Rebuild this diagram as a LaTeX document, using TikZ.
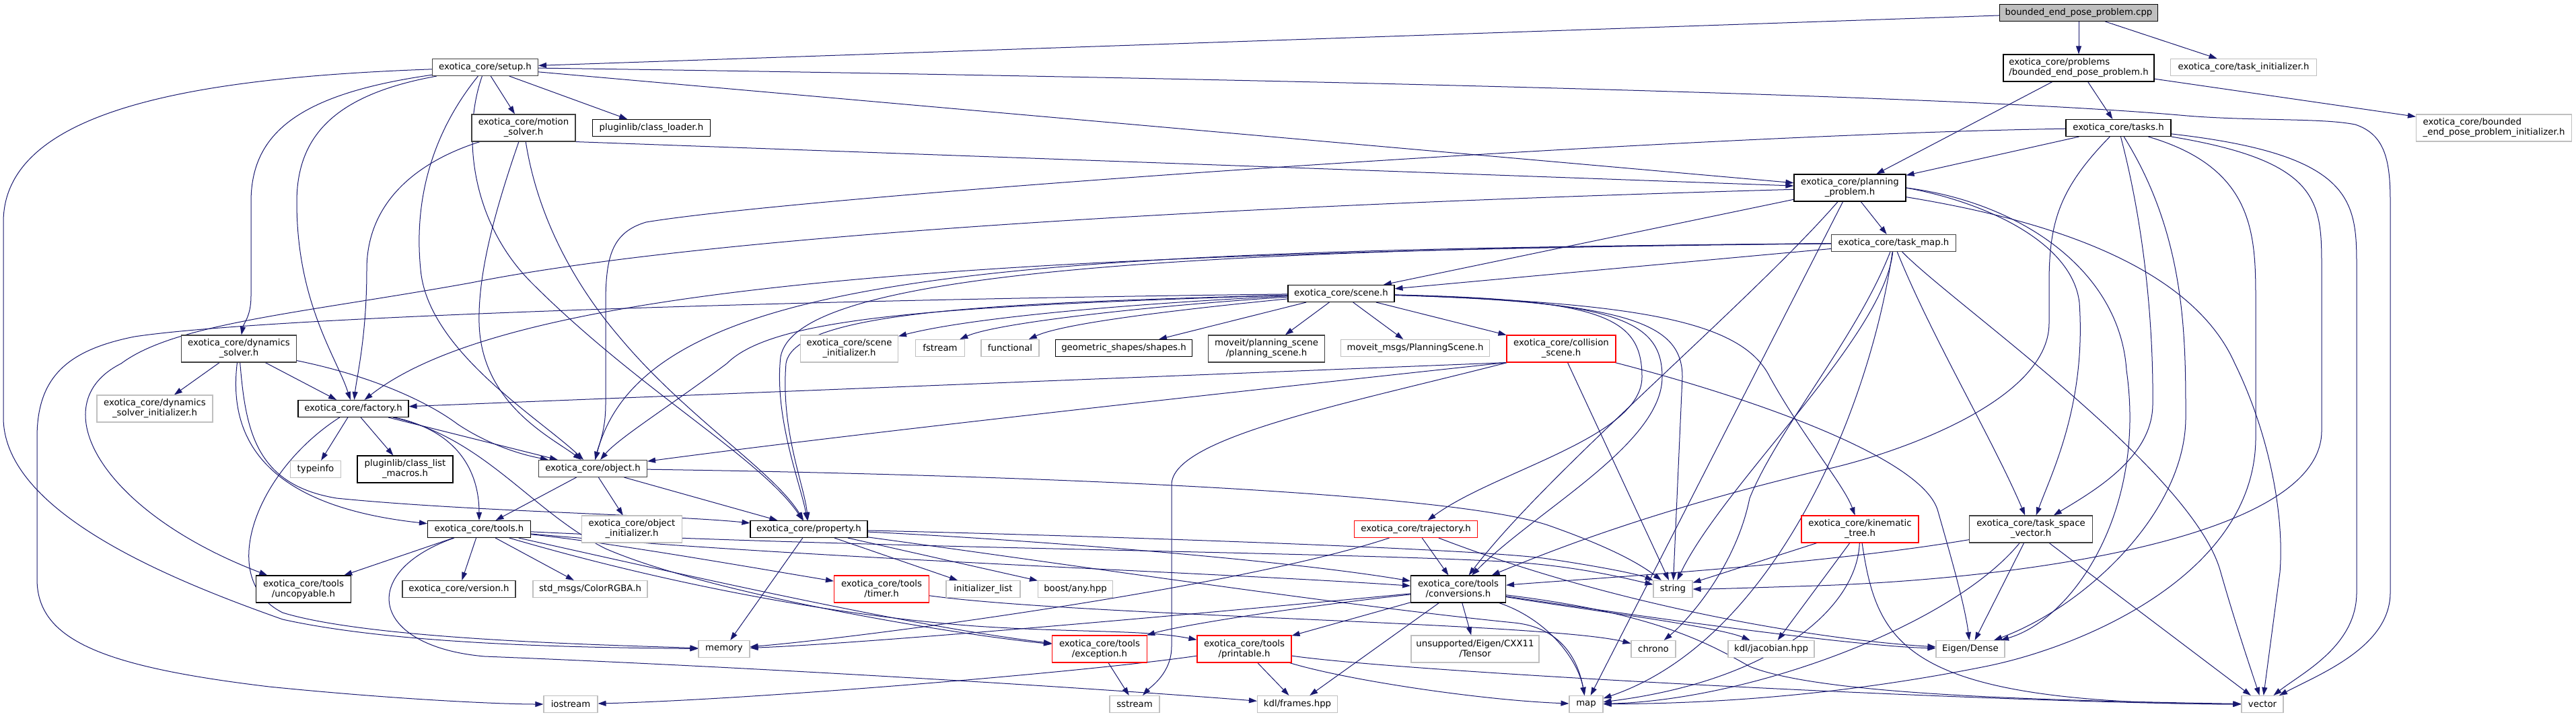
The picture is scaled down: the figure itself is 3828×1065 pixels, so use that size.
\documentclass[tikz,border=0pt]{standalone}
\usepackage{fontspec}
\setmainfont{DejaVu Sans}
\usetikzlibrary{arrows.meta}
\pgfdeclarelayer{bg}
\pgfsetlayers{bg,main}
\definecolor{edgec}{HTML}{191970}
\definecolor{lgc}{HTML}{BFBFBF}
\definecolor{dgc}{HTML}{404040}
\definecolor{redc}{HTML}{FF0000}
\begin{document}
\begin{tikzpicture}[x=1pt,y=-1pt,
  nbase/.style={fill=white,line width=1.1pt,inner sep=0pt,align=center,font=\fontsize{13.3pt}{15pt}\selectfont},
  nb/.style={nbase,draw=black},
  nd/.style={nbase,draw=dgc},
  nl/.style={nbase,draw=lgc},
  nr/.style={nbase,draw=redc},
  dep/.style={draw=edgec,line width=1pt,-{Triangle[length=12pt,width=8pt]}}
]
\useasboundingbox (0,0) rectangle (3828,1065);
% ---------------- nodes ----------------
\node[nb,fill=lgc,minimum width=235pt,minimum height=25pt] (cpp) at (3089,19) {bounded\_end\_pose\_problem.cpp};
\node[nb,align=left,minimum width=224pt,minimum height=40pt] (probbep) at (3089,101) {exotica\_core/problems\\/bounded\_end\_pose\_problem.h};
\node[nl,minimum width=217pt,minimum height=25pt] (taskinit) at (3334,100) {exotica\_core/task\_initializer.h};
\node[nb,minimum width=156pt,minimum height=25pt] (tasks) at (3148,190) {exotica\_core/tasks.h};
\node[nl,align=left,minimum width=231pt,minimum height=40pt] (bepinit) at (3706,190) {exotica\_core/bounded\\\_end\_pose\_problem\_initializer.h};
\node[nd,minimum width=157pt,minimum height=25pt] (setup) at (721,100) {exotica\_core/setup.h};
\node[nd,minimum width=154pt,minimum height=40pt] (motion) at (778,190) {exotica\_core/motion\\\_solver.h};
\node[nb,minimum width=175pt,minimum height=25pt] (classloader) at (968,190) {pluginlib/class\_loader.h};
\node[nb,minimum width=166pt,minimum height=40pt] (pp) at (2749,279) {exotica\_core/planning\\\_problem.h};
\node[nd,minimum width=185pt,minimum height=25pt] (taskmap) at (2814,361) {exotica\_core/task\_map.h};
\node[nb,minimum width=158pt,minimum height=25pt] (scene) at (1993,436) {exotica\_core/scene.h};
\node[nd,minimum width=171pt,minimum height=40pt] (dyn) at (355,518) {exotica\_core/dynamics\\\_solver.h};
\node[nl,minimum width=145pt,minimum height=40pt] (sceneinit) at (1262,518) {exotica\_core/scene\\\_initializer.h};
\node[nl,minimum width=73pt,minimum height=25pt] (fstream) at (1397,517) {fstream};
\node[nl,minimum width=86pt,minimum height=25pt] (functional) at (1501,517) {functional};
\node[nb,minimum width=203pt,minimum height=25pt] (shapes) at (1670,517) {geometric\_shapes/shapes.h};
\node[nd,minimum width=173pt,minimum height=40pt] (mps) at (1882,518) {moveit/planning\_scene\\/planning\_scene.h};
\node[nl,minimum width=221pt,minimum height=25pt] (msgs) at (2103,517) {moveit\_msgs/PlanningScene.h};
\node[nr,minimum width=162pt,minimum height=40pt] (coll) at (2320,518) {exotica\_core/collision\\\_scene.h};
\node[nl,minimum width=172pt,minimum height=40pt] (dsinit) at (230,607) {exotica\_core/dynamics\\\_solver\_initializer.h};
\node[nb,minimum width=164pt,minimum height=25pt] (factory) at (525,607) {exotica\_core/factory.h};
\node[nl,minimum width=75pt,minimum height=25pt] (typeinfo) at (469,697) {typeinfo};
\node[nb,minimum width=142pt,minimum height=40pt] (macros) at (602,697) {pluginlib/class\_list\\\_macros.h};
\node[nd,minimum width=161pt,minimum height=25pt] (object) at (881,696) {exotica\_core/object.h};
\node[nl,minimum width=149pt,minimum height=40pt] (objinit) at (939,786) {exotica\_core/object\\\_initializer.h};
\node[nb,minimum width=153pt,minimum height=25pt] (tools) at (712,786) {exotica\_core/tools.h};
\node[nb,minimum width=174pt,minimum height=25pt] (property) at (1202,786) {exotica\_core/property.h};
\node[nr,minimum width=183pt,minimum height=25pt] (trajectory) at (2104,786) {exotica\_core/trajectory.h};
\node[nr,minimum width=174pt,minimum height=40pt] (kintree) at (2764,786) {exotica\_core/kinematic\\\_tree.h};
\node[nd,minimum width=183pt,minimum height=40pt] (tsv) at (3018,786) {exotica\_core/task\_space\\\_vector.h};
\node[nb,minimum width=141pt,minimum height=40pt] (uncopyable) at (451,875) {exotica\_core/tools\\/uncopyable.h};
\node[nd,minimum width=168pt,minimum height=25pt] (version) at (682,875) {exotica\_core/version.h};
\node[nl,minimum width=170pt,minimum height=25pt] (colorrgba) at (877,875) {std\_msgs/ColorRGBA.h};
\node[nr,minimum width=141pt,minimum height=40pt] (timer) at (1310,875) {exotica\_core/tools\\/timer.h};
\node[nl,minimum width=110pt,minimum height=25pt] (initlist) at (1461,875) {initializer\_list};
\node[nl,minimum width=111pt,minimum height=25pt] (boostany) at (1598,875) {boost/any.hpp};
\node[nb,minimum width=141pt,minimum height=40pt] (conversions) at (2167,875) {exotica\_core/tools\\/conversions.h};
\node[nl,minimum width=58pt,minimum height=25pt] (string) at (2486,875) {string};
\node[nl,minimum width=76pt,minimum height=25pt] (memory) at (1076,964) {memory};
\node[nr,minimum width=141pt,minimum height=40pt] (exception) at (1634,964) {exotica\_core/tools\\/exception.h};
\node[nr,minimum width=140pt,minimum height=40pt] (printable) at (1849,964) {exotica\_core/tools\\/printable.h};
\node[nl,minimum width=190pt,minimum height=40pt] (tensor) at (2192,964) {unsupported/Eigen/CXX11\\/Tensor};
\node[nl,minimum width=66pt,minimum height=25pt] (chrono) at (2457,964) {chrono};
\node[nl,minimum width=128pt,minimum height=25pt] (jacobian) at (2632,964) {kdl/jacobian.hpp};
\node[nl,minimum width=102pt,minimum height=25pt] (eigen) at (2928,964) {Eigen/Dense};
\node[nl,minimum width=80pt,minimum height=25pt] (iostream) at (848,1046) {iostream};
\node[nl,minimum width=74pt,minimum height=25pt] (sstream) at (1686,1046) {sstream};
\node[nl,minimum width=119pt,minimum height=25pt] (frames) at (1928,1046) {kdl/frames.hpp};
\node[nl,minimum width=50pt,minimum height=25pt] (map) at (2357,1046) {map};
\node[nl,minimum width=62pt,minimum height=25pt] (vector) at (3362,1046) {vector};
% ---------------- edges ----------------
\begin{pgfonlayer}{bg}
\fill[white] (0,0) rectangle (3828,1065);
% top file
\draw[dep] (cpp) -- (setup);
\draw[dep] (cpp) -- (probbep);
\draw[dep] (cpp) -- (taskinit);
\draw[dep] (probbep) -- (pp);
\draw[dep] (probbep) -- (tasks);
\draw[dep] (probbep) -- (bepinit);
% setup
\draw[dep] (setup) .. controls (1800,115) and (2900,140) .. (3250,172) .. controls (3350,180) and (3450,175) .. (3500,185) .. controls (3545,200) and (3552,240) .. (3552,300) -- (3552,880) .. controls (3552,960) and (3450,1000) .. (vector);
\draw[dep] (setup) -- (pp);
\draw[dep] (setup) -- (motion);
\draw[dep] (setup) -- (classloader);
\draw[dep] (setup) .. controls (440,140) and (373,200) .. (373,300) -- (373,440) .. controls (373,470) and (362,480) .. (dyn);
\draw[dep] (setup) .. controls (500,140) and (441,200) .. (441,300) .. controls (441,450) and (500,530) .. (factory);
\draw[dep] (setup) .. controls (640,200) and (615,300) .. (625,400) .. controls (635,520) and (800,620) .. (object);
\draw[dep] (setup) .. controls (686,200) and (700,330) .. (790,420) .. controls (950,580) and (1130,680) .. (property);
\draw[dep] (setup) .. controls (300,115) and (5,160) .. (5,330) -- (5,620) .. controls (5,760) and (250,860) .. (420,920) .. controls (600,960) and (900,962) .. (memory);
% motion solver
\draw[dep] (motion.south east) -- (pp);
\draw[dep] (motion) .. controls (620,240) and (545,300) .. (545,400) .. controls (545,500) and (530,560) .. (factory);
\draw[dep] (motion) .. controls (740,300) and (710,400) .. (712,480) .. controls (715,600) and (820,650) .. (object);
\draw[dep] (motion) .. controls (800,330) and (860,430) .. (920,500) .. controls (1020,620) and (1150,700) .. (property);
% dynamics solver
\draw[dep] (dyn) -- (dsinit);
\draw[dep] (dyn) -- (factory);
\draw[dep] (dyn) .. controls (560,560) and (640,600) .. (680,630) .. controls (740,670) and (800,680) .. (object);
\draw[dep] (dyn) .. controls (365,640) and (380,720) .. (500,740) .. controls (700,760) and (1000,765) .. (property);
\draw[dep] (dyn) .. controls (340,640) and (380,750) .. (tools);
% factory
\draw[dep] (factory) -- (typeinfo);
\draw[dep] (factory) -- (macros);
\draw[dep] (factory) -- (object);
\draw[dep] (factory) .. controls (680,640) and (712,700) .. (tools);
\draw[dep] (factory) .. controls (380,700) and (320,860) .. (420,910) .. controls (550,950) and (900,958) .. (memory);
\draw[dep] (factory) .. controls (720,650) and (790,760) .. (900,815) .. controls (1050,880) and (1400,940) .. (exception);
% object
\draw[dep] (object) -- (tools);
\draw[dep] (object) -- (objinit);
\draw[dep] (object) -- (property);
\draw[dep] (object) .. controls (1500,705) and (2150,730) .. (2300,780) .. controls (2400,815) and (2440,840) .. (string);
% tools
\draw[dep] (tools) -- (uncopyable);
\draw[dep] (tools) -- (version);
\draw[dep] (tools) -- (colorrgba);
\draw[dep] (tools) .. controls (1200,830) and (1800,850) .. (conversions);
\draw[dep] (tools) .. controls (1300,815) and (2000,820) .. (2250,835) .. controls (2350,842) and (2420,860) .. (string);
\draw[dep] (tools) .. controls (900,805) and (1100,840) .. (timer);
\draw[dep] (tools) .. controls (1000,850) and (1350,930) .. (exception);
\draw[dep] (tools) .. controls (1000,870) and (1250,915) .. (1450,930) .. controls (1600,940) and (1700,935) .. (printable);
\draw[dep] (tools) .. controls (530,850) and (550,960) .. (720,975) .. controls (1100,990) and (1600,1020) .. (frames);
% property
\draw[dep] (property) -- (memory);
\draw[dep] (property) -- (initlist);
\draw[dep] (property) -- (boostany);
\draw[dep] (property) .. controls (1500,800) and (1900,830) .. (conversions);
\draw[dep] (property) .. controls (1600,795) and (2200,815) .. (2300,830) .. controls (2400,845) and (2440,855) .. (string);
\draw[dep] (property) .. controls (1600,840) and (2000,900) .. (2250,925) .. controls (2320,932) and (2345,980) .. (map);
% planning problem
\draw[dep] (pp) -- (scene);
\draw[dep] (pp) -- (taskmap);
\draw[dep] (pp.east) .. controls (2950,300) and (3080,360) .. (3090,450) .. controls (3100,600) and (3050,700) .. (tsv);
\draw[dep] (pp) .. controls (2600,450) and (2300,700) .. (conversions);
\draw[dep] (pp) -- (map);
\draw[dep] (pp) .. controls (3000,320) and (3250,380) .. (3321,540) .. controls (3370,640) and (3395,760) .. (3388,850) -- (vector);
\draw[dep] (pp.east) .. controls (3000,300) and (3150,400) .. (3160,550) .. controls (3190,760) and (3080,920) .. (eigen);
\draw[dep] (pp) .. controls (2000,300) and (1100,340) .. (700,420) .. controls (450,465) and (260,480) .. (180,540) .. controls (60,600) and (150,760) .. (uncopyable);
% tasks
\draw[dep] (tasks) -- (pp);
\draw[dep] (tasks) .. controls (2500,200) and (1200,290) .. (960,330) .. controls (910,345) and (900,380) .. (900,450) -- (900,600) .. controls (900,640) and (890,660) .. (object);
\draw[dep] (tasks) .. controls (3190,350) and (3200,500) .. (3199,600) .. controls (3199,680) and (3110,730) .. (tsv);
\draw[dep] (tasks) .. controls (3248,350) and (3248,500) .. (3248,620) .. controls (3248,760) and (3100,900) .. (eigen);
\draw[dep] (tasks) .. controls (3352,250) and (3352,350) .. (3352,450) -- (3352,650) .. controls (3352,850) and (3100,960) .. (2950,990) .. controls (2700,1040) and (2500,1045) .. (map);
\draw[dep] (tasks) .. controls (3450,240) and (3450,300) .. (3450,400) -- (3450,640) .. controls (3450,800) and (3000,860) .. (2700,870) .. controls (2600,873) and (2550,875) .. (string);
\draw[dep] (tasks) .. controls (3502,230) and (3502,300) .. (3502,400) -- (3502,880) .. controls (3502,960) and (3420,1000) .. (vector);
\draw[dep] (tasks) .. controls (3060,280) and (3045,330) .. (3045,420) -- (3045,480) .. controls (3045,600) and (2800,680) .. (2700,700) .. controls (2450,760) and (2300,820) .. (conversions);
% task map
\draw[dep] (taskmap) -- (scene);
\draw[dep] (taskmap) .. controls (1400,375) and (750,430) .. (factory);
\draw[dep] (taskmap) .. controls (1500,372) and (960,400) .. (object);
\draw[dep] (taskmap) .. controls (1600,370) and (1180,420) .. (1160,530) .. controls (1150,620) and (1190,720) .. (property);
\draw[dep] (taskmap) .. controls (2870,500) and (2960,650) .. (tsv);
\draw[dep] (taskmap) .. controls (2800,500) and (2560,720) .. (string);
\draw[dep] (taskmap) .. controls (2760,500) and (2640,640) .. (2600,740) .. controls (2580,840) and (2510,920) .. (chrono);
\draw[dep] (taskmap) .. controls (2780,600) and (2640,950) .. (map);
\draw[dep] (taskmap) .. controls (2900,450) and (3260,700) .. (3300,850) .. controls (3320,920) and (3340,980) .. (vector);
% scene
\draw[dep] (scene) .. controls (1700,450) and (1450,470) .. (sceneinit);
\draw[dep] (scene) .. controls (1700,455) and (1480,480) .. (fstream);
\draw[dep] (scene) .. controls (1750,460) and (1580,480) .. (functional);
\draw[dep] (scene) -- (shapes);
\draw[dep] (scene) -- (mps);
\draw[dep] (scene) -- (msgs);
\draw[dep] (scene) -- (coll);
\draw[dep] (scene) .. controls (1500,450) and (1180,460) .. (1168,540) .. controls (1160,640) and (1195,720) .. (property);
\draw[dep] (scene) .. controls (1400,455) and (1150,470) .. (1080,540) .. controls (1000,600) and (920,650) .. (object);
\draw[dep] (scene) .. controls (1200,445) and (400,470) .. (200,500) .. controls (100,520) and (55,560) .. (55,650) -- (55,860) .. controls (55,950) and (150,990) .. (400,1020) .. controls (600,1040) and (750,1046) .. (iostream);
\draw[dep] (scene) .. controls (2380,445) and (2440,470) .. (2440,560) .. controls (2440,650) and (2220,700) .. (trajectory);
\draw[dep] (scene) .. controls (2400,447) and (2470,475) .. (2470,560) .. controls (2470,660) and (2280,760) .. (conversions);
\draw[dep] (scene) .. controls (2420,449) and (2500,480) .. (2500,560) -- (string);
\draw[dep] (scene) .. controls (2450,450) and (2590,480) .. (2630,560) .. controls (2680,650) and (2740,720) .. (kintree);
% collision scene
\draw[dep] (coll.south west) -- (factory);
\draw[dep] (coll.south west) .. controls (1900,575) and (1300,640) .. (object);
\draw[dep] (coll) .. controls (2000,600) and (1741,650) .. (1741,720) -- (1741,960) .. controls (1741,1000) and (1710,1020) .. (sstream);
\draw[dep] (coll) -- (string);
\draw[dep] (coll) .. controls (2600,590) and (2860,680) .. (2880,760) .. controls (2900,830) and (2920,900) .. (eigen);
% kinematic tree
\draw[dep] (kintree) -- (string);
\draw[dep] (kintree) -- (jacobian);
\draw[dep] (kintree) .. controls (2760,900) and (2640,1010) .. (map);
\draw[dep] (kintree) .. controls (2790,960) and (2830,1045) .. (vector);
% trajectory
\draw[dep] (trajectory) .. controls (1850,870) and (1300,945) .. (memory);
\draw[dep] (trajectory) -- (conversions);
\draw[dep] (trajectory) .. controls (2400,900) and (2700,950) .. (eigen);
% conversions
\draw[dep] (conversions) .. controls (1800,910) and (1300,955) .. (memory);
\draw[dep] (conversions) .. controls (1900,905) and (1750,930) .. (exception);
\draw[dep] (conversions) -- (printable);
\draw[dep] (conversions) -- (frames);
\draw[dep] (conversions) -- (tensor);
\draw[dep] (conversions) .. controls (2300,920) and (2345,980) .. (map);
\draw[dep] (conversions) .. controls (2350,905) and (2550,930) .. (jacobian);
\draw[dep] (conversions) .. controls (2400,910) and (2750,960) .. (eigen);
\draw[dep] (conversions) .. controls (2450,910) and (2530,950) .. (2600,990) .. controls (2700,1030) and (3000,1040) .. (vector);
% timer, exception, printable
\draw[dep] (timer) .. controls (1600,915) and (2300,925) .. (chrono);
\draw[dep] (exception) -- (sstream);
\draw[dep] (printable) .. controls (1600,1000) and (1100,1040) .. (iostream);
\draw[dep] (printable) -- (frames);
\draw[dep] (printable) .. controls (2000,1010) and (2200,1040) .. (map);
\draw[dep] (printable) .. controls (2100,1000) and (3000,1045) .. (vector);
% task space vector
\draw[dep] (tsv) .. controls (2700,840) and (2350,860) .. (conversions);
\draw[dep] (tsv) -- (eigen);
\draw[dep] (tsv) -- (vector);
\draw[dep] (tsv) .. controls (2900,930) and (2600,1040) .. (map);
\end{pgfonlayer}
\end{tikzpicture}
\end{document}
